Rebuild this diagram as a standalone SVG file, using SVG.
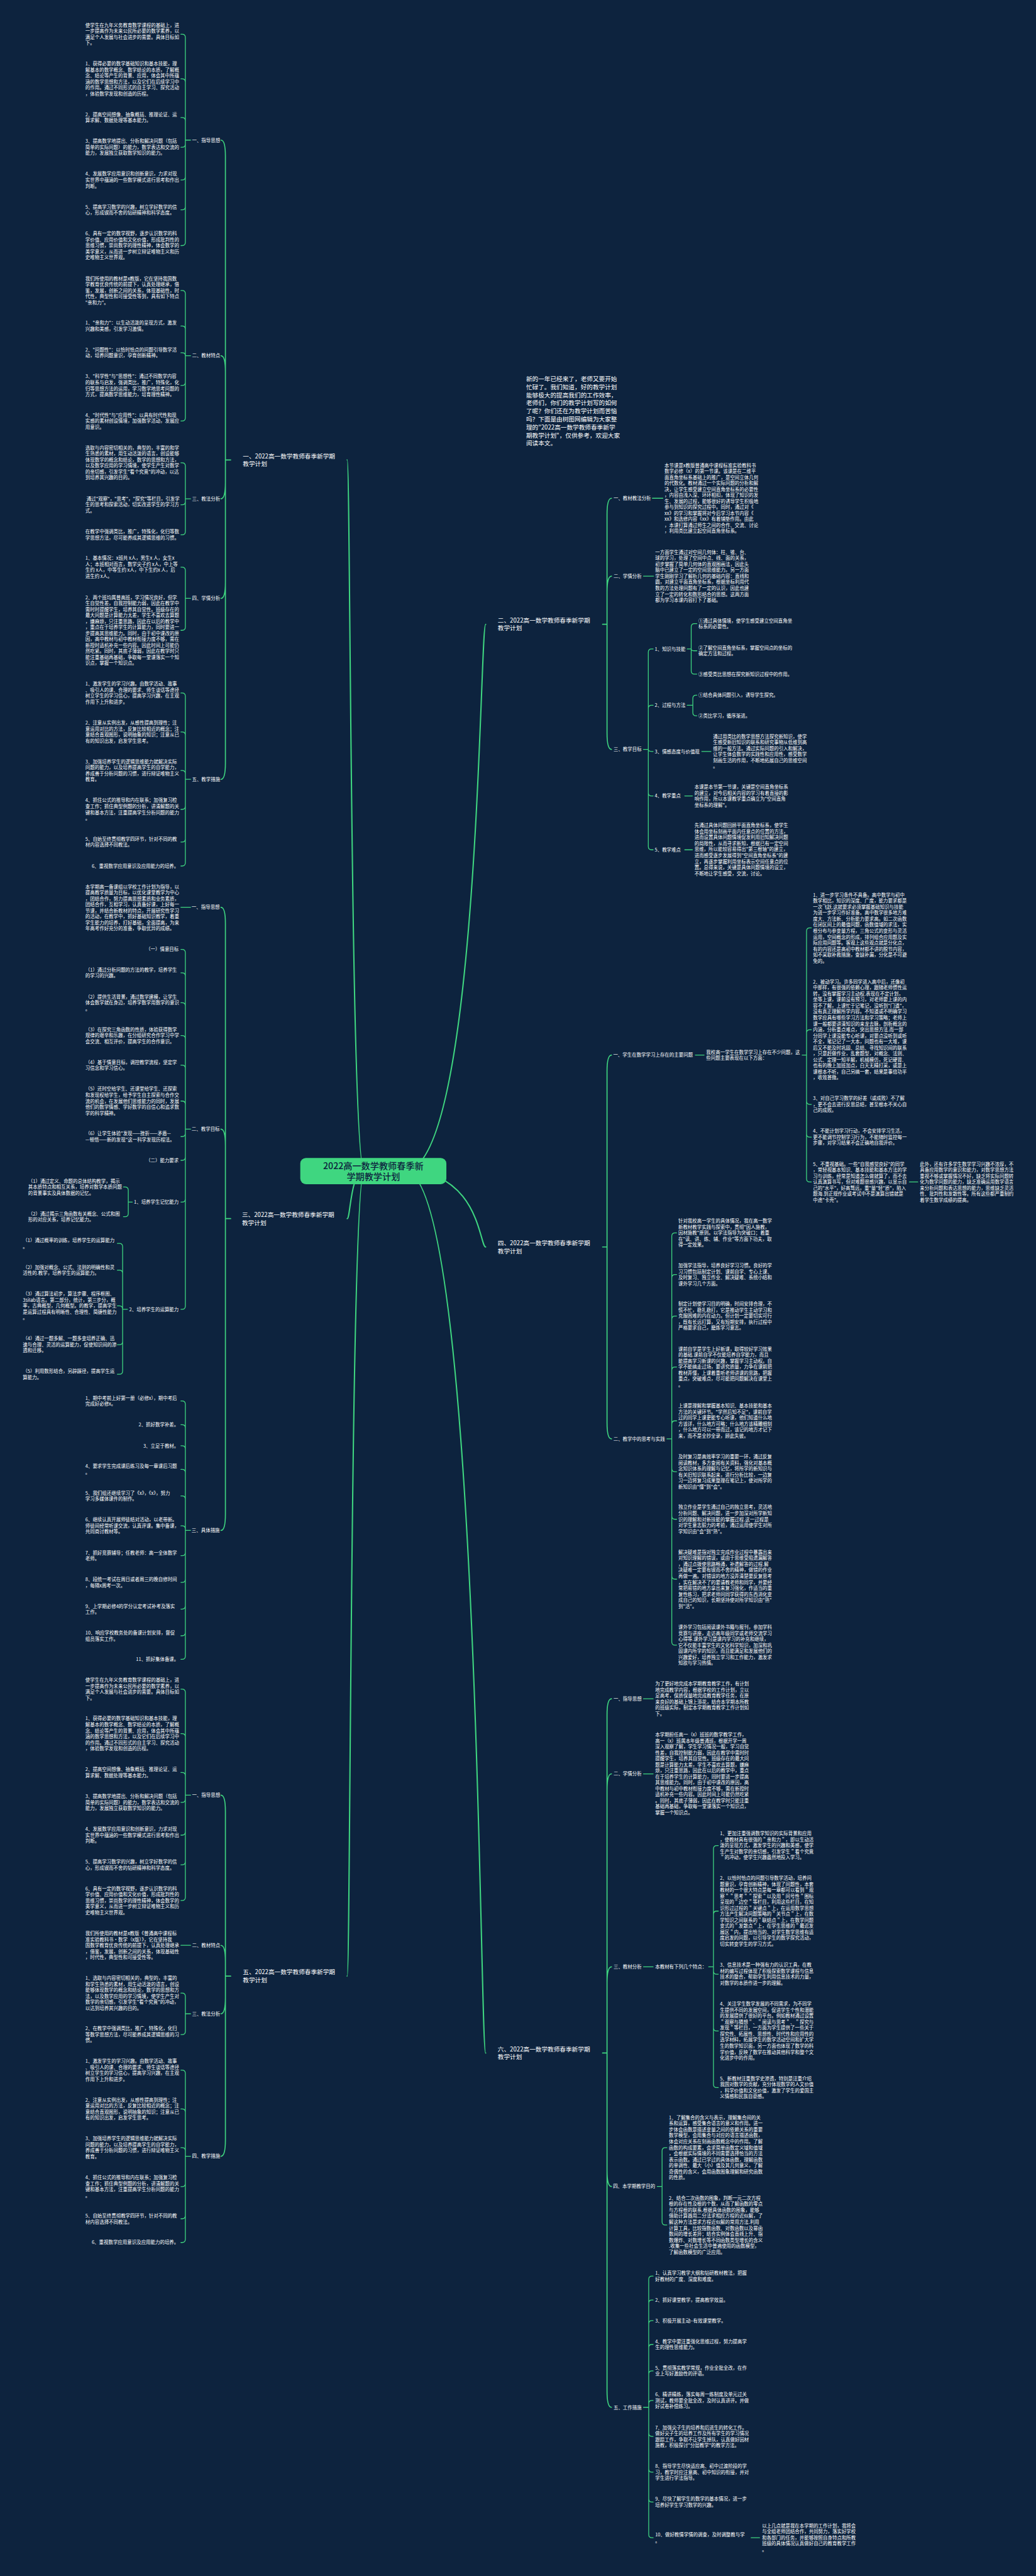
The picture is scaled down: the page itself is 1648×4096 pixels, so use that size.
<svg xmlns="http://www.w3.org/2000/svg" width="1648" height="4096" viewBox="0 0 1648 4096">
<style>
.t{font-family:"Noto Sans CJK SC","Noto Sans",sans-serif;font-size:11.6px;fill:#ffffff}
.e{text-anchor:end}
.m{font-size:15px}
.c{font-size:22px;fill:#0d233e;text-anchor:middle;font-weight:500}
.k{fill:none;stroke:#3fd680;stroke-width:2;stroke-linecap:round;stroke-linejoin:round}
.k2{stroke-width:2.6}
.k3{stroke-width:3.2}
</style>
<rect width="1648" height="4096" fill="#0d233e"/>
<g transform="scale(0.64375)">
<g id="connectors">
<path class="k k3" d="M900,2892C866,2892 866,1136 858,1136M900,2892C866,2892 866,3010 858,3010M900,2892C866,2892 866,4881 858,4881M1000,2892C1185,2892 1185,1542 1200,1542M1000,2892C1185,2892 1185,3080 1200,3080M1000,2892C1185,2892 1185,5071 1200,5071"/>
<path class="k k2" d="M570,1136H557V386Q557,346 546,346M557,1136V918.6Q557,878.6 546,878.6M557,1136V1192Q557,1232 546,1232M557,1136V1438Q557,1478 546,1478M557,1136V1885Q557,1925 546,1925"/>
<path class="k k2" d="M570,3010H557V2281Q557,2241 546,2241M557,3010V2829Q557,2789 546,2789M557,3010V3740Q557,3780 546,3780"/>
<path class="k k2" d="M570,4881H557V4474Q557,4434 546,4434M557,4881V4845Q557,4805 546,4805M557,4881V4934Q557,4974 546,4974M557,4881V5286Q557,5326 546,5326"/>
<path class="k k2" d="M1489,1542H1500V1270.7Q1500,1230.7 1511,1230.7M1500,1542V1463Q1500,1423 1511,1423M1500,1542V1811Q1500,1851 1511,1851"/>
<path class="k k2" d="M1489,3080H1500V2646Q1500,2606 1511,2606M1500,3080V3514Q1500,3554 1511,3554"/>
<path class="k k2" d="M1489,5071H1500V4236Q1500,4196 1511,4196M1500,5071V4421.4Q1500,4381.4 1511,4381.4M1500,5071V4898Q1500,4858 1511,4858M1500,5071V5360.7Q1500,5400.7 1511,5400.7M1500,5071V5906Q1500,5946 1511,5946"/>
<path class="k" d="M471,346H458M458,346V92.5Q458,84.5 450,84.5H447M458,346V202.7Q458,194.7 450,194.7H447M458,346V298.4Q458,290.4 450,290.4H447M458,346V355.8Q458,363.8 450,363.8H447M458,346V436.6Q458,444.6 450,444.6H447M458,346V510.4Q458,518.4 450,518.4H447M458,346V598.6Q458,606.6 450,606.6H447"/>
<path class="k" d="M471,878.6H458M458,878.6V725.6Q458,717.6 450,717.6H447M458,878.6V813.4Q458,805.4 450,805.4H447M458,878.6Q458,871.4 450,871.4H447M458,878.6V944.2Q458,952.2 450,952.2H447M458,878.6V1031.8Q458,1039.8 450,1039.8H447"/>
<path class="k" d="M471,1232H458M458,1232V1151Q458,1143 450,1143H447M458,1232V1238.8Q458,1246.8 450,1246.8H447M458,1232V1312.9Q458,1320.9 450,1320.9H447"/>
<path class="k" d="M471,1478H458M458,1478V1408.9Q458,1400.9 450,1400.9H447M458,1478V1548.9Q458,1556.9 450,1556.9H447"/>
<path class="k" d="M471,1925H458M458,1925V1719.7Q458,1711.7 450,1711.7H447M458,1925V1815.8Q458,1807.8 450,1807.8H447M458,1925V1911.2Q458,1903.2 450,1903.2H447M458,1925V1991.2Q458,1999.2 450,1999.2H447M458,1925V2071.9Q458,2079.9 450,2079.9H447M458,1925V2131Q458,2139 450,2139H447"/>
<path class="k" d="M471,2241H447"/>
<path class="k" d="M471,2789H458M458,2789V2353Q458,2345 450,2345H447M458,2789V2410.9Q458,2402.9 450,2402.9H447M458,2789V2484.8Q458,2476.8 450,2476.8H447M458,2789V2565.8Q458,2557.8 450,2557.8H447M458,2789V2638.9Q458,2630.9 450,2630.9H447M458,2789V2727.6Q458,2719.6 450,2719.6H447M458,2789V2799.4Q458,2807.4 450,2807.4H447M458,2789V2858Q458,2866 450,2866H447M458,2789V2961Q458,2969 450,2969H447M458,2789V3226Q458,3234 450,3234H447"/>
<path class="k" d="M327,2969H317M317,2969V2939.8Q317,2931.8 309,2931.8H305M317,2969V2997.4Q317,3005.4 309,3005.4H305"/>
<path class="k" d="M315,3234H303M303,3234V3079.4Q303,3071.4 295,3071.4H290M303,3234V3145.4Q303,3137.4 295,3137.4H290M303,3234Q303,3225.6 295,3225.6H290M303,3234V3313.4Q303,3321.4 295,3321.4H290M303,3234V3386.4Q303,3394.4 295,3394.4H290"/>
<path class="k" d="M471,3780H458M458,3780V3468.4Q458,3460.4 450,3460.4H447M458,3780V3527Q458,3519 450,3519H447M458,3780V3579Q458,3571 450,3571H447M458,3780V3637.4Q458,3629.4 450,3629.4H447M458,3780V3703Q458,3695 450,3695H447M458,3780V3776.8Q458,3768.8 450,3768.8H447M458,3780V3834.4Q458,3842.4 450,3842.4H447M458,3780V3900.4Q458,3908.4 450,3908.4H447M458,3780V3966.4Q458,3974.4 450,3974.4H447M458,3780V4032.4Q458,4040.4 450,4040.4H447M458,3780V4090.6Q458,4098.6 450,4098.6H447"/>
<path class="k" d="M471,4434H458M458,4434V4180.2Q458,4172.2 450,4172.2H447M458,4434V4290Q458,4282 450,4282H447M458,4434V4386.1Q458,4378.1 450,4378.1H447M458,4434V4443.8Q458,4451.8 450,4451.8H447M458,4434V4524.8Q458,4532.8 450,4532.8H447M458,4434V4598.1Q458,4606.1 450,4606.1H447M458,4434V4686.2Q458,4694.2 450,4694.2H447"/>
<path class="k" d="M471,4805H447"/>
<path class="k" d="M471,4974H458M458,4974V4931Q458,4923 450,4923H447M458,4974V5017.3Q458,5025.3 450,5025.3H447"/>
<path class="k" d="M471,5326H458M458,5326V5121.2Q458,5113.2 450,5113.2H447M458,5326V5217.2Q458,5209.2 450,5209.2H447M458,5326V5312.8Q458,5304.8 450,5304.8H447M458,5326V5392.9Q458,5400.9 450,5400.9H447M458,5326V5472.4Q458,5480.4 450,5480.4H447M458,5326V5531Q458,5539 450,5539H447"/>
<path class="k" d="M1612,1230.7H1638M1590,1423H1615"/>
<path class="k" d="M1590,1851H1602M1602,1851V1611Q1602,1603 1610,1603H1614M1602,1851V1750Q1602,1742 1610,1742H1614M1602,1851Q1602,1856 1610,1856H1614M1602,1851V1958Q1602,1966 1610,1966H1614M1602,1851V2091Q1602,2099 1610,2099H1614"/>
<path class="k" d="M1698,1603H1708M1708,1603V1548.4Q1708,1540.4 1716,1540.4H1722M1708,1603Q1708,1607.4 1716,1607.4H1722M1708,1603V1657Q1708,1665 1716,1665H1722"/>
<path class="k" d="M1698,1742H1712M1712,1742V1725Q1712,1717 1720,1717H1722M1712,1742V1760Q1712,1768 1720,1768H1722"/>
<path class="k" d="M1734,1856H1757M1692,1966H1711M1692,2099H1711"/>
<path class="k" d="M1718,2606H1740M1982,2606H1993M1993,2606V2300Q1993,2292 2001,2292H2005M1993,2606V2551.4Q1993,2543.4 2001,2543.4H2005M1993,2606V2719.8Q1993,2727.8 2001,2727.8H2005M1993,2606V2800.8Q1993,2808.8 2001,2808.8H2005M1993,2606V2911.4Q1993,2919.4 2001,2919.4H2005M2247,2919.4H2268"/>
<path class="k" d="M1648,3554H1660M1660,3554V3053.2Q1660,3045.2 1668,3045.2H1672M1660,3554V3156.2Q1660,3148.2 1668,3148.2H1672M1660,3554V3258.6Q1660,3250.6 1668,3250.6H1672M1660,3554V3384.4Q1660,3376.4 1668,3376.4H1672M1660,3554V3517.5Q1660,3509.5 1668,3509.5H1672M1660,3554V3627Q1660,3635 1668,3635H1672M1660,3554V3744.6Q1660,3752.6 1668,3752.6H1672M1660,3554V3892.6Q1660,3900.6 1668,3900.6H1672M1660,3554V4055.4Q1660,4063.4 1668,4063.4H1672"/>
<path class="k" d="M1590,4196H1614M1590,4381.4H1614M1590,4858H1614M1751,4858H1763M1763,4858V4566.6Q1763,4558.6 1771,4558.6H1775M1763,4858V4728.4Q1763,4720.4 1771,4720.4H1775M1763,4858V4868.2Q1763,4876.2 1771,4876.2H1775M1763,4858V5008.6Q1763,5016.6 1771,5016.6H1775M1763,4858V5148.2Q1763,5156.2 1771,5156.2H1775"/>
<path class="k" d="M1624,5400.7H1636M1636,5400.7V5312.5Q1636,5304.5 1644,5304.5H1648M1636,5400.7V5487.6Q1636,5495.6 1644,5495.6H1648"/>
<path class="k" d="M1590,5946H1603M1603,5946V5630Q1603,5622 1611,5622H1614M1603,5946V5689Q1603,5681 1611,5681H1614M1603,5946V5740Q1603,5732 1611,5732H1614M1603,5946V5798.7Q1603,5790.7 1611,5790.7H1614M1603,5946V5864.2Q1603,5856.2 1611,5856.2H1614M1603,5946V5937.2Q1603,5929.2 1611,5929.2H1614M1603,5946V6009.9Q1603,6017.9 1611,6017.9H1614M1603,5946V6098.1Q1603,6106.1 1611,6106.1H1614M1603,5946V6172.1Q1603,6180.1 1611,6180.1H1614M1603,5946V6260.2Q1603,6268.2 1611,6268.2H1614M1856,6268.2H1877"/>
</g>

<g id="center">
<rect x="742" y="2860" width="361" height="65" rx="14" fill="#3fd680"/>
<text class="t c" x="922.5" y="2887.4">2022高一数学教师春季新<tspan x="922.5" dy="27">学期教学计划</tspan></text>
</g>

<g id="intro">
<text class="t m" x="1300" y="941.2">新的一年已经来了，老师又要开始<tspan x="1300" dy="19.9">忙碌了。我们知道，好的教学计划</tspan><tspan x="1300" dy="19.9">能够极大的提高我们的工作效率，</tspan><tspan x="1300" dy="19.9">老师们，你们的教学计划写的如何</tspan><tspan x="1300" dy="19.9">了呢？你们还在为教学计划而苦恼</tspan><tspan x="1300" dy="19.9">吗？下面是由树图网编辑为大家整</tspan><tspan x="1300" dy="19.9">理的"2022高一数学教师春季新学</tspan><tspan x="1300" dy="19.9">期教学计划"，仅供参考，欢迎大家</tspan><tspan x="1300" dy="19.9">阅读本文。</tspan></text>
</g>

<!-- Branch 1 -->
<g id="b1">
<text class="t m" x="600" y="1131.7">一、2022高一数学教师春季新学期<tspan x="600" dy="19.5">教学计划</tspan></text>
</g>
<g id="b1-s1"><text class="t e" x="544" y="350.3">一、指导思想</text></g>
<g id="b1-s1-a"><text class="t" x="211" y="66.6">使学生在九年义务教育数学课程的基础上，进<tspan x="211" dy="14.8">一步提高作为未来公民所必要的数学素养，以</tspan><tspan x="211" dy="14.8">满足个人发展与社会进步的需要。具体目标如</tspan><tspan x="211" dy="14.8">下。</tspan></text></g>
<g id="b1-s1-b"><text class="t" x="211" y="162">1、获得必要的数学基础知识和基本技能，理<tspan x="211" dy="14.8">解基本的数学概念、数学结论的本质，了解概</tspan><tspan x="211" dy="14.8">念、结论等产生的背景、应用，体会其中所蕴</tspan><tspan x="211" dy="14.8">涵的数学思想和方法，以及它们在后续学习中</tspan><tspan x="211" dy="14.8">的作用。通过不同形式的自主学习、探究活动</tspan><tspan x="211" dy="14.8">，体验数学发现和创造的历程。</tspan></text></g>
<g id="b1-s1-c"><text class="t" x="211" y="287.3">2、提高空间想像、抽象概括、推理论证、运<tspan x="211" dy="14.8">算求解、数据处理等基本能力。</tspan></text></g>
<g id="b1-s1-d"><text class="t" x="211" y="353.3">3、提高数学地提出、分析和解决问题（包括<tspan x="211" dy="14.8">简单的实际问题）的能力，数学表达和交流的</tspan><tspan x="211" dy="14.8">能力，发展独立获取数学知识的能力。</tspan></text></g>
<g id="b1-s1-e"><text class="t" x="211" y="434.1">4、发展数学应用意识和创新意识，力求对现<tspan x="211" dy="14.8">实世界中蕴涵的一些数学模式进行思考和作出</tspan><tspan x="211" dy="14.8">判断。</tspan></text></g>
<g id="b1-s1-f"><text class="t" x="211" y="515.3">5、提高学习数学的兴趣，树立学好数学的信<tspan x="211" dy="14.8">心，形成锲而不舍的钻研精神和科学态度。</tspan></text></g>
<g id="b1-s1-g"><text class="t" x="211" y="581.3">6、具有一定的数学视野，逐步认识数学的科<tspan x="211" dy="14.8">学价值、应用价值和文化价值，形成批判性的</tspan><tspan x="211" dy="14.8">思维习惯，崇尚数学的理性精神，体会数学的</tspan><tspan x="211" dy="14.8">美学意义，从而进一步树立辩证唯物主义和历</tspan><tspan x="211" dy="14.8">史唯物主义世界观。</tspan></text></g>
<g id="b1-s2"><text class="t e" x="544" y="882.9">二、教材特点</text></g>
<g id="b1-s2-a"><text class="t" x="211" y="692.3">我们所使用的教材是x教版，它在坚持我国数<tspan x="211" dy="14.8">学教育优良传统的前提下，认真处理继承，借</tspan><tspan x="211" dy="14.8">鉴，发展，创新之间的关系，体现基础性，时</tspan><tspan x="211" dy="14.8">代性，典型性和可接受性等到，具有如下特点</tspan><tspan x="211" dy="14.8">"亲和力"。</tspan></text></g>
<g id="b1-s2-b"><text class="t" x="211" y="802.3">1、"亲和力"：以生动活泼的呈现方式，激发<tspan x="211" dy="14.8">兴趣和美感，引发学习激情。</tspan></text></g>
<g id="b1-s2-c"><text class="t" x="211" y="868.3">2、"问题性"：以恰时恰点的问题引导数学活<tspan x="211" dy="14.8">动，培养问题意识，孕育创新精神。</tspan></text></g>
<g id="b1-s2-d"><text class="t" x="211" y="934.3">3、"科学性"与"思想性"：通过不同数学内容<tspan x="211" dy="14.8">的联系与启发，强调类比，推广，特殊化，化</tspan><tspan x="211" dy="14.8">归等思想方法的运用，学习数学地思考问题的</tspan><tspan x="211" dy="14.8">方式，提高数学思维能力，培育理性精神。</tspan></text></g>
<g id="b1-s2-e"><text class="t" x="211" y="1029.3">4、"时代性"与"应用性"：以具有时代性和现<tspan x="211" dy="14.8">实感的素材创设情境，加强数学活动，发展应</tspan><tspan x="211" dy="14.8">用意识。</tspan></text></g>
<g id="b1-s3"><text class="t e" x="544" y="1236.3">三、教法分析</text></g>
<g id="b1-s3-a"><text class="t" x="211" y="1110.3">选取与内容密切相关的，典型的，丰富的和学<tspan x="211" dy="14.8">生熟悉的素材，用生动活泼的语言，创设能够</tspan><tspan x="211" dy="14.8">体现数学的概念和结论，数学的思想和方法，</tspan><tspan x="211" dy="14.8">以及数学应用的学习情境，使学生产生对数学</tspan><tspan x="211" dy="14.8">的亲切感，引发学生"看个究竟"的冲动，以达</tspan><tspan x="211" dy="14.8">到培养其兴趣的目的。</tspan></text></g>
<g id="b1-s3-b"><text class="t" x="214" y="1236.3">通过"观察"，"思考"，"探究"等栏目，引发学<tspan x="211" dy="14.8">生的思考和探索活动，切实改进学生的学习方</tspan><tspan x="211" dy="14.8">式。</tspan></text></g>
<g id="b1-s3-c"><text class="t" x="211" y="1317.8">在教学中强调类比，推广，特殊化，化归等数<tspan x="211" dy="14.8">学思想方法，尽可能养成其逻辑思维的习惯。</tspan></text></g>
<g id="b1-s4"><text class="t e" x="544" y="1482.3">四、学情分析</text></g>
<g id="b1-s4-a"><text class="t" x="211" y="1383">1、基本情况：x班共 x人，男生x 人，女生x<tspan x="211" dy="14.8">人；本班相对而言，数学尖子约 x人，中上等</tspan><tspan x="211" dy="14.8">生约 x人，中等生约 x人，中下生约x 人，后</tspan><tspan x="211" dy="14.8">进生约 x人。</tspan></text></g>
<g id="b1-s4-b"><text class="t" x="211" y="1479.8">2、两个班均属普高班，学习情况良好，但学<tspan x="211" dy="14.8">生自觉性差，自我控制能力弱，因此在教学中</tspan><tspan x="211" dy="14.8">需时时提醒学生，培养其自觉性。班级存在的</tspan><tspan x="211" dy="14.8">最大问题是计算能力太差，学生不喜欢去算题</tspan><tspan x="211" dy="14.8">，嫌麻烦，只注重思路，因此在以后的教学中</tspan><tspan x="211" dy="14.8">，重点在于培养学生的计算能力，同时要进一</tspan><tspan x="211" dy="14.8">步提高其思维能力。同时，由于初中课改的原</tspan><tspan x="211" dy="14.8">因，高中教材与初中教材衔接力度不够，需在</tspan><tspan x="211" dy="14.8">新授时适机补充一些内容。因此时间上可能仍</tspan><tspan x="211" dy="14.8">然吃紧。同时，其底子薄弱，因此在教学时只</tspan><tspan x="211" dy="14.8">能注重基础再基础，争取每一堂课落实一个知</tspan><tspan x="211" dy="14.8">识点，掌握一个知识点。</tspan></text></g>
<g id="b1-s5"><text class="t e" x="544" y="1929.3">五、教学措施</text></g>
<g id="b1-s5-a"><text class="t" x="211" y="1693.8">1、激发学生的学习兴趣。由数学活动、故事<tspan x="211" dy="14.8">、吸引人的课、合理的要求、师生谈话等途径</tspan><tspan x="211" dy="14.8">树立学生的学习信心，提高学习兴趣，在主观</tspan><tspan x="211" dy="14.8">作用下上升和进步。</tspan></text></g>
<g id="b1-s5-b"><text class="t" x="211" y="1789.9">2、注意从实例出发，从感性提高到理性；注<tspan x="211" dy="14.8">意运用对比的方法，反复比较相近的概念；注</tspan><tspan x="211" dy="14.8">意结合直观图形，说明抽象的知识；注意从已</tspan><tspan x="211" dy="14.8">有的知识出发，启发学生思考。</tspan></text></g>
<g id="b1-s5-c"><text class="t" x="211" y="1885.3">3、加强培养学生的逻辑思维能力就解决实际<tspan x="211" dy="14.8">问题的能力，以及培养提高学生的自学能力，</tspan><tspan x="211" dy="14.8">养成善于分析问题的习惯，进行辩证唯物主义</tspan><tspan x="211" dy="14.8">教育。</tspan></text></g>
<g id="b1-s5-d"><text class="t" x="211" y="1981.3">4、抓住公式的推导和内在联系；加强复习检<tspan x="211" dy="14.8">查工作；抓住典型例题的分析，讲清解题的关</tspan><tspan x="211" dy="14.8">键和基本方法，注重提高学生分析问题的能力</tspan><tspan x="211" dy="14.8">。</tspan></text></g>
<g id="b1-s5-e"><text class="t" x="211" y="2076.8">5、自始至终贯彻教学四环节，针对不同的教<tspan x="211" dy="14.8">材内容选择不同教法。</tspan></text></g>
<g id="b1-s5-f"><text class="t e" x="441.6" y="2143.3">6、重视数学应用意识及应用能力的培养。</text></g>

<!-- Branch 3 -->
<g id="b3">
<text class="t m" x="598" y="3005.7">三、2022高一数学教师春季新学期<tspan x="598" dy="19.6">教学计划</tspan></text>
</g>
<g id="b3-s1"><text class="t e" x="543" y="2245.3">一、指导思想</text></g>
<g id="b3-s1-a"><text class="t" x="211" y="2194.3">本学期高一备课组以学校工作计划为指导，以<tspan x="211" dy="14.8">提高教学质量为目标，以优化课堂教学为中心</tspan><tspan x="211" dy="14.8">，团结合作，努力提高思想素质和业务素质，</tspan><tspan x="211" dy="14.8">团结合作，互相学习，认真备好课，上好每一</tspan><tspan x="211" dy="14.8">节课，并结合新教材的特点，开展研究性学习</tspan><tspan x="211" dy="14.8">的活动，在教学中，抓好基础知识教学，着重</tspan><tspan x="211" dy="14.8">学生能力的培养，打好基础，全面提高，为来</tspan><tspan x="211" dy="14.8">年高考作好充分的准备，争取优异的成绩。</tspan></text></g>
<g id="b3-s2"><text class="t e" x="543" y="2793.3">二、教学目标</text></g>
<g id="b3-s2-a"><text class="t e" x="441.6" y="2349.3">（一）情意目标</text></g>
<g id="b3-s2-b"><text class="t" x="211" y="2399.8">（1）通过分析问题的方法的教学，培养学生<tspan x="211" dy="14.8">的学习的兴趣。</tspan></text></g>
<g id="b3-s2-c"><text class="t" x="211" y="2466.3">（2）提供生活背景，通过数学建模，让学生<tspan x="211" dy="14.8">体会数学就在身边，培养学数学用数学的意识</tspan><tspan x="211" dy="14.8">。</tspan></text></g>
<g id="b3-s2-d"><text class="t" x="211" y="2547.3">（3）在探究三角函数的性质，体验获得数学<tspan x="211" dy="14.8">规律的艰辛和乐趣，在分组研究合作学习中学</tspan><tspan x="211" dy="14.8">会交流、相互评价，提高学生的合作意识。</tspan></text></g>
<g id="b3-s2-e"><text class="t" x="211" y="2627.8">（4）基于情意目标，调控教学流程，坚定学<tspan x="211" dy="14.8">习信念和学习信心。</tspan></text></g>
<g id="b3-s2-f"><text class="t" x="211" y="2694.3">（5）还时空给学生、还课堂给学生、还探索<tspan x="211" dy="14.8">和发现权给学生，给予学生自主探索与合作交</tspan><tspan x="211" dy="14.8">流的机会，在发展他们思维能力的同时，发展</tspan><tspan x="211" dy="14.8">他们的数学情感、学好数学的自信心和追求数</tspan><tspan x="211" dy="14.8">学的科学精神。</tspan></text></g>
<g id="b3-s2-g"><text class="t" x="211" y="2804.3">（6）让学生体验"发现——挫折——矛盾—<tspan x="211" dy="14.8">—顿悟——新的发现"这一科学发现历程法。</tspan></text></g>
<g id="b3-s2-h"><text class="t e" x="441.6" y="2870.3">（二）能力要求</text></g>
<g id="b3-s2-i"><text class="t e" x="441.6" y="2973.3">1、培养学生记忆能力</text></g>
<g id="b3-s2-i1"><text class="t" x="69.7" y="2921.3">（1）通过定义、命题的总体结构教学，揭示<tspan x="69.7" dy="14.8">其本质特点和相互关系，培养对数学本质问题</tspan><tspan x="69.7" dy="14.8">的背景事实及具体数据的记忆。</tspan></text></g>
<g id="b3-s2-i2"><text class="t" x="69.7" y="3002.3">（2）通过揭示三角函数有关概念、公式和图<tspan x="69.7" dy="14.8">形的对应关系，培养记忆能力。</tspan></text></g>
<g id="b3-s2-j"><text class="t e" x="441.6" y="3238.3">2、培养学生的运算能力</text></g>
<g id="b3-s2-j1"><text class="t" x="56.5" y="3068.3">（1）通过概率的训练，培养学生的运算能力<tspan x="56.5" dy="14.8">。</tspan></text></g>
<g id="b3-s2-j2"><text class="t" x="56.5" y="3134.3">（2）加强对概念、公式、法则的明确性和灵<tspan x="56.5" dy="14.8">活性的.教学，培养学生的运算能力。</tspan></text></g>
<g id="b3-s2-j3"><text class="t" x="56.5" y="3200.3">（3）通过算法初步，算法步骤、程序框图、<tspan x="56.5" dy="14.8">3silab语言。第二部分，统计，第三步分，概</tspan><tspan x="56.5" dy="14.8">率，古典概型，几何概型。的教学，提高学生</tspan><tspan x="56.5" dy="14.8">是运算过程具有明晰性、合理性、简捷性能力</tspan><tspan x="56.5" dy="14.8">。</tspan></text></g>
<g id="b3-s2-j4"><text class="t" x="56.5" y="3310.9">（4）通过一题多解、一题多变培养正确、迅<tspan x="56.5" dy="14.8">速与合理、灵活的运算能力，促使知识间的渗</tspan><tspan x="56.5" dy="14.8">透和迁移。</tspan></text></g>
<g id="b3-s2-j5"><text class="t" x="56.5" y="3391.3">（5）利用数形结合，另辟蹊径，提高学生运<tspan x="56.5" dy="14.8">算能力。</tspan></text></g>
<g id="b3-s3"><text class="t e" x="543" y="3784.3">三、具体措施</text></g>
<g id="b3-s3-1"><text class="t" x="211" y="3457.3">1、期中考前上好第一册（必修x），期中考后<tspan x="211" dy="14.8">完成好必修x。</tspan></text></g>
<g id="b3-s3-2"><text class="t e" x="441.6" y="3523.3">2、抓好数学补差。</text></g>
<g id="b3-s3-3"><text class="t e" x="441.6" y="3575.3">3、立足于教材。</text></g>
<g id="b3-s3-4"><text class="t" x="211" y="3626.3">4、要求学生完成课后练习及每一章课后习题<tspan x="211" dy="14.8">。</tspan></text></g>
<g id="b3-s3-5"><text class="t" x="211" y="3691.9">5、我们组还继续学习了《x》，《x》，努力<tspan x="211" dy="14.8">学习多媒体课件的制作。</tspan></text></g>
<g id="b3-s3-6"><text class="t" x="211" y="3758.3">6、继续认真开展师徒结对活动，以老带新。<tspan x="211" dy="14.8">师徒间经常听课交流，认真评课。集中备课，</tspan><tspan x="211" dy="14.8">共同商讨教材等。</tspan></text></g>
<g id="b3-s3-7"><text class="t" x="211" y="3839.3">7、抓好竞赛辅导；任教老师：高一全体数学<tspan x="211" dy="14.8">老师。</tspan></text></g>
<g id="b3-s3-8"><text class="t" x="211" y="3905.3">8、段统一考试在周日或者周三的晚自修时间<tspan x="211" dy="14.8">，每隔x周考一次。</tspan></text></g>
<g id="b3-s3-9"><text class="t" x="211" y="3971.3">9、上学期必修4的学分认定考试补考及落实<tspan x="211" dy="14.8">工作。</tspan></text></g>
<g id="b3-s3-10"><text class="t" x="211" y="4037.3">10、响应学校教务处的备课计划安排，督促<tspan x="211" dy="14.8">组员落实工作。</tspan></text></g>
<g id="b3-s3-11"><text class="t e" x="441.6" y="4102.9">11、抓好集体备课。</text></g>

<!-- Branch 5 -->
<g id="b5">
<text class="t m" x="600" y="4876.7">五、2022高一数学教师春季新学期<tspan x="600" dy="19.5">教学计划</tspan></text>
</g>
<g id="b5-s1"><text class="t e" x="544" y="4438.3">一、指导思想</text></g>
<g id="b5-s1-a"><text class="t" x="211" y="4154.3">使学生在九年义务教育数学课程的基础上，进<tspan x="211" dy="14.8">一步提高作为未来公民所必要的数学素养，以</tspan><tspan x="211" dy="14.8">满足个人发展与社会进步的需要。具体目标如</tspan><tspan x="211" dy="14.8">下。</tspan></text></g>
<g id="b5-s1-b"><text class="t" x="211" y="4249.3">1、获得必要的数学基础知识和基本技能，理<tspan x="211" dy="14.8">解基本的数学概念、数学结论的本质，了解概</tspan><tspan x="211" dy="14.8">念、结论等产生的背景、应用，体会其中所蕴</tspan><tspan x="211" dy="14.8">涵的数学思想和方法，以及它们在后续学习中</tspan><tspan x="211" dy="14.8">的作用。通过不同形式的自主学习、探究活动</tspan><tspan x="211" dy="14.8">，体验数学发现和创造的历程。</tspan></text></g>
<g id="b5-s1-c"><text class="t" x="211" y="4375">2、提高空间想像、抽象概括、推理论证、运<tspan x="211" dy="14.8">算求解、数据处理等基本能力。</tspan></text></g>
<g id="b5-s1-d"><text class="t" x="211" y="4441.3">3、提高数学地提出、分析和解决问题（包括<tspan x="211" dy="14.8">简单的实际问题）的能力，数学表达和交流的</tspan><tspan x="211" dy="14.8">能力，发展独立获取数学知识的能力。</tspan></text></g>
<g id="b5-s1-e"><text class="t" x="211" y="4522.3">4、发展数学应用意识和创新意识，力求对现<tspan x="211" dy="14.8">实世界中蕴涵的一些数学模式进行思考和作出</tspan><tspan x="211" dy="14.8">判断。</tspan></text></g>
<g id="b5-s1-f"><text class="t" x="211" y="4603">5、提高学习数学的兴趣，树立学好数学的信<tspan x="211" dy="14.8">心，形成锲而不舍的钻研精神和科学态度。</tspan></text></g>
<g id="b5-s1-g"><text class="t" x="211" y="4668.9">6、具有一定的数学视野，逐步认识数学的科<tspan x="211" dy="14.8">学价值、应用价值和文化价值，形成批判性的</tspan><tspan x="211" dy="14.8">思维习惯，崇尚数学的理性精神，体会数学的</tspan><tspan x="211" dy="14.8">美学意义，从而进一步树立辩证唯物主义和历</tspan><tspan x="211" dy="14.8">史唯物主义世界观。</tspan></text></g>
<g id="b5-s2"><text class="t e" x="544" y="4809.3">二、教材特点</text></g>
<g id="b5-s2-a"><text class="t" x="211" y="4779.8">我们所使用的教材是x教版《普通高中课程标<tspan x="211" dy="14.8">准实验教科书·数学（x版）》，它在坚持我</tspan><tspan x="211" dy="14.8">国数学教育优良传统的前提下，认真处理继承</tspan><tspan x="211" dy="14.8">，借鉴，发展，创新之间的关系，体现基础性</tspan><tspan x="211" dy="14.8">，时代性，典型性和可接受性等。</tspan></text></g>
<g id="b5-s3"><text class="t e" x="544" y="4978.3">三、教法分析</text></g>
<g id="b5-s3-a"><text class="t" x="211" y="4890.3">1、选取与内容密切相关的，典型的，丰富的<tspan x="211" dy="14.8">和学生熟悉的素材，用生动活泼的语言，创设</tspan><tspan x="211" dy="14.8">能够体现数学的概念和结论，数学的思想和方</tspan><tspan x="211" dy="14.8">法，以及数学应用的学习情境，使学生产生对</tspan><tspan x="211" dy="14.8">数学的亲切感，引发学生"看个究竟"的冲动，</tspan><tspan x="211" dy="14.8">以达到培养其兴趣的目的。</tspan></text></g>
<g id="b5-s3-b"><text class="t" x="211" y="5014.8">2、在教学中强调类比，推广，特殊化，化归<tspan x="211" dy="14.8">等数学思想方法，尽可能养成其逻辑思维的习</tspan><tspan x="211" dy="14.8">惯。</tspan></text></g>
<g id="b5-s4"><text class="t e" x="544" y="5330.3">四、教学措施</text></g>
<g id="b5-s4-a"><text class="t" x="211" y="5095.3">1、激发学生的学习兴趣。由数学活动、故事<tspan x="211" dy="14.8">、吸引人的课、合理的要求、师生谈话等途径</tspan><tspan x="211" dy="14.8">树立学生的学习信心，提高学习兴趣，在主观</tspan><tspan x="211" dy="14.8">作用下上升和进步。</tspan></text></g>
<g id="b5-s4-b"><text class="t" x="211" y="5191.3">2、注意从实例出发，从感性提高到理性；注<tspan x="211" dy="14.8">意运用对比的方法，反复比较相近的概念；注</tspan><tspan x="211" dy="14.8">意结合直观图形，说明抽象的知识；注意从已</tspan><tspan x="211" dy="14.8">有的知识出发，启发学生思考。</tspan></text></g>
<g id="b5-s4-c"><text class="t" x="211" y="5286.9">3、加强培养学生的逻辑思维能力就解决实际<tspan x="211" dy="14.8">问题的能力，以及培养提高学生的自学能力，</tspan><tspan x="211" dy="14.8">养成善于分析问题的习惯，进行辩证唯物主义</tspan><tspan x="211" dy="14.8">教育。</tspan></text></g>
<g id="b5-s4-d"><text class="t" x="211" y="5383">4、抓住公式的推导和内在联系；加强复习检<tspan x="211" dy="14.8">查工作；抓住典型例题的分析，讲清解题的关</tspan><tspan x="211" dy="14.8">键和基本方法，注重提高学生分析问题的能力</tspan><tspan x="211" dy="14.8">。</tspan></text></g>
<g id="b5-s4-e"><text class="t" x="211" y="5477.3">5、自始至终贯彻教学四环节，针对不同的教<tspan x="211" dy="14.8">材内容选择不同教法。</tspan></text></g>
<g id="b5-s4-f"><text class="t e" x="441.6" y="5543.3">6、重视数学应用意识及应用能力的培养。</text></g>

<!-- Branch 2 -->
<g id="b2">
<text class="t m" x="1230" y="1537.7">二、2022高一数学教师春季新学期<tspan x="1230" dy="19.5">教学计划</tspan></text>
</g>
<g id="b2-s1"><text class="t" x="1516" y="1235">一、教材教法分析</text></g>
<g id="b2-s1-a"><text class="t" x="1642" y="1153.7">本节课是x教版普通高中课程标准实验教科书<tspan x="1642" dy="14.8">数学必修（x）的第一节课。该课是在二维平</tspan><tspan x="1642" dy="14.8">面直角坐标系基础上的推广，是空间立体几何</tspan><tspan x="1642" dy="14.8">的代数化。教材通过一个实际问题的分析和解</tspan><tspan x="1642" dy="14.8">决，让学生感受建立空间直角坐标系的必要性</tspan><tspan x="1642" dy="14.8">，内容由浅入深、环环相扣，体现了知识的发</tspan><tspan x="1642" dy="14.8">生、发展的过程，能够很好的诱导学生积极地</tspan><tspan x="1642" dy="14.8">参与到知识的探究过程中。同时，通过对《</tspan><tspan x="1642" dy="14.8">xx》的学习和掌握将对今后学习本节内容《</tspan><tspan x="1642" dy="14.8">xx》和选修内容《xx》有着铺垫作用。由此</tspan><tspan x="1642" dy="14.8">，本课打算通过师生之间的合作、交流、讨论</tspan><tspan x="1642" dy="14.8">，利用类比建立起空间直角坐标系。</tspan></text></g>
<g id="b2-s2"><text class="t" x="1516" y="1427.3">二、学情分析</text></g>
<g id="b2-s2-a"><text class="t" x="1619" y="1368.3">一方面学生通过对空间几何体：柱、锥、台、<tspan x="1619" dy="14.8">球的学习，处理了空间中点、线、面的关系，</tspan><tspan x="1619" dy="14.8">初步掌握了简单几何体的直观图画法，因此头</tspan><tspan x="1619" dy="14.8">脑中已建立了一定的空间思维能力。另一方面</tspan><tspan x="1619" dy="14.8">学生刚刚学习了解析几何的基础内容：直线和</tspan><tspan x="1619" dy="14.8">圆，对建立平面直角坐标系，根据坐标利用代</tspan><tspan x="1619" dy="14.8">数的方法处理问题有了一定的认识，因此也建</tspan><tspan x="1619" dy="14.8">立了一定的转化和数形结合的思想。这两方面</tspan><tspan x="1619" dy="14.8">都为学习本课内容打下了基础。</tspan></text></g>
<g id="b2-s3"><text class="t" x="1516" y="1855.3">三、教学目标</text></g>
<g id="b2-s3-1"><text class="t" x="1618" y="1607.3">1、知识与技能</text></g>
<g id="b2-s3-1a"><text class="t" x="1726" y="1537.3">①通过具体情境，使学生感受建立空间直角坐<tspan x="1726" dy="14.8">标系的必要性。</tspan></text></g>
<g id="b2-s3-1b"><text class="t" x="1726" y="1604.3">②了解空间直角坐标系，掌握空间点的坐标的<tspan x="1726" dy="14.8">确定方法和过程。</tspan></text></g>
<g id="b2-s3-1c"><text class="t" x="1726" y="1669.3">③感受类比思想在探究新知识过程中的作用。</text></g>
<g id="b2-s3-2"><text class="t" x="1618" y="1746.3">2、过程与方法</text></g>
<g id="b2-s3-2a"><text class="t" x="1726" y="1721.3">①结合具体问题引入，诱导学生探究。</text></g>
<g id="b2-s3-2b"><text class="t" x="1726" y="1772.3">②类比学习，循序渐进。</text></g>
<g id="b2-s3-3"><text class="t" x="1618" y="1860.3">3、情感态度与价值观</text></g>
<g id="b2-s3-3a"><text class="t" x="1762" y="1823.3">通过用类比的数学思想方法探究新知识，使学<tspan x="1762" dy="14.8">生感受新旧知识的联系和研究事物从低维到高</tspan><tspan x="1762" dy="14.8">维的一般方法。通过实际问题的引入和解决，</tspan><tspan x="1762" dy="14.8">让学生体会数学的实践性和应用性，感受数学</tspan><tspan x="1762" dy="14.8">刻画生活的作用，不断地拓展自己的思维空间</tspan><tspan x="1762" dy="14.8">。</tspan></text></g>
<g id="b2-s3-4"><text class="t" x="1618" y="1970.3">4、教学重点</text></g>
<g id="b2-s3-4a"><text class="t" x="1716" y="1948.3">本课是本节第一节课，关键是空间直角坐标系<tspan x="1716" dy="14.8">的建立，对今后相关内容的学习有着直接的影</tspan><tspan x="1716" dy="14.8">响作用，所以本课教学重点确立为"空间直角</tspan><tspan x="1716" dy="14.8">坐标系的理解"。</tspan></text></g>
<g id="b2-s3-5"><text class="t" x="1618" y="2103.3">5、教学难点</text></g>
<g id="b2-s3-5a"><text class="t" x="1716" y="2043.3">先通过具体问题回顾平面直角坐标系，使学生<tspan x="1716" dy="14.8">体会用坐标刻画平面内任意点的位置的方法，</tspan><tspan x="1716" dy="14.8">进而设置具体问题情境促发利用旧知解决问题</tspan><tspan x="1716" dy="14.8">的局限性，从而寻求新知，根据已有一定空间</tspan><tspan x="1716" dy="14.8">思维，所以能较容易得出"第三根轴"的建立，</tspan><tspan x="1716" dy="14.8">进而感受逐步发展得到"空间直角坐标系"的建</tspan><tspan x="1716" dy="14.8">立，再逐步掌握利用坐标表示空间任意点的位</tspan><tspan x="1716" dy="14.8">置。总得来说，关键是具体问题情境的设立，</tspan><tspan x="1716" dy="14.8">不断地让学生感受，交流，讨论。</tspan></text></g>

<!-- Branch 4 -->
<g id="b4">
<text class="t m" x="1230" y="3075.7">四、2022高一数学教师春季新学期<tspan x="1230" dy="19.5">教学计划</tspan></text>
</g>
<g id="b4-s1"><text class="t e" x="1712" y="2610.3">一、学生在数学学习上存在的主要问题</text></g>
<g id="b4-s1-a"><text class="t" x="1745" y="2603.3">我校高一学生在数学学习上存在不少问题，这<tspan x="1745" dy="14.8">些问题主要表现在以下方面：</tspan></text></g>
<g id="b4-s1-1"><text class="t" x="2009" y="2214.9">1、进一步学习条件不具备。高中数学与初中<tspan x="2009" dy="14.8">数学相比，知识的深度、广度，能力要求都是</tspan><tspan x="2009" dy="14.8">一次飞跃.这就要求必须掌握基础知识与技能</tspan><tspan x="2009" dy="14.8">为进一步学习作好准备。高中数学很多地方难</tspan><tspan x="2009" dy="14.8">度大、方法新、分析能力要求高。如二次函数</tspan><tspan x="2009" dy="14.8">在闭区间上的最值问题，函数值域的求法，实</tspan><tspan x="2009" dy="14.8">根分布与参变量方程，三角公式的变形与灵活</tspan><tspan x="2009" dy="14.8">运用，空间概念的形成，排列组合应用题及实</tspan><tspan x="2009" dy="14.8">际应用问题等。客观上这些观点就是分化点，</tspan><tspan x="2009" dy="14.8">有的内容还是高初中教材都不讲的脱节内容，</tspan><tspan x="2009" dy="14.8">如不采取补救措施，查缺补漏，分化是不可避</tspan><tspan x="2009" dy="14.8">免的。</tspan></text></g>
<g id="b4-s1-2"><text class="t" x="2009" y="2429.3">2、被动学习。许多同学进入高中后，还像初<tspan x="2009" dy="14.8">中那样，有很强的依赖心理，跟随老师惯性运</tspan><tspan x="2009" dy="14.8">转，没有掌握学习主动权.表现在不定计划，</tspan><tspan x="2009" dy="14.8">坐等上课，课前没有预习，对老师要上课的内</tspan><tspan x="2009" dy="14.8">容不了解，上课忙于记笔记，没听到"门道"，</tspan><tspan x="2009" dy="14.8">没有真正理解所学内容。不知道或不明确学习</tspan><tspan x="2009" dy="14.8">数学应具有哪些学习方法和学习策略；老师上</tspan><tspan x="2009" dy="14.8">课一般都要讲清知识的来龙去脉，剖析概念的</tspan><tspan x="2009" dy="14.8">内涵，分析重点难点，突出思想方法.而一部</tspan><tspan x="2009" dy="14.8">分同学上课没能专心听课，对要点没听到或听</tspan><tspan x="2009" dy="14.8">不全，笔记记了一大本，问题也有一大堆，课</tspan><tspan x="2009" dy="14.8">后又不能及时巩固、总结、寻找知识间的联系</tspan><tspan x="2009" dy="14.8">，只是赶做作业，乱套题型，对概念、法则、</tspan><tspan x="2009" dy="14.8">公式、定理一知半解，机械模仿，死记硬背.</tspan><tspan x="2009" dy="14.8">也有的晚上加班加点，白天无精打采，或是上</tspan><tspan x="2009" dy="14.8">课根本不听，自己另搞一套，结果是事倍功半</tspan><tspan x="2009" dy="14.8">，收效甚微。</tspan></text></g>
<g id="b4-s1-3"><text class="t" x="2009" y="2717.3">3、对自己学习数学的好差（或成败）不了解<tspan x="2009" dy="14.8">，更不会去进行反思总结，甚至根本不关心自</tspan><tspan x="2009" dy="14.8">己的成败。</tspan></text></g>
<g id="b4-s1-4"><text class="t" x="2009" y="2798.3">4、不能计划学习行动，不会安排学习生活，<tspan x="2009" dy="14.8">更不能调节控制学习行为，不能随时监控每一</tspan><tspan x="2009" dy="14.8">步骤，对学习结果不会正确地自我评价。</tspan></text></g>
<g id="b4-s1-5"><text class="t" x="2009" y="2879.3">5、不重视基础。一些"自我感觉良好"的同学<tspan x="2009" dy="14.8">，常轻视基本知识、基本技能和基本方法的学</tspan><tspan x="2009" dy="14.8">习与训练，经常是知道怎么做就算了，而不去</tspan><tspan x="2009" dy="14.8">认真演算书写，但对难题很感兴趣，以显示自</tspan><tspan x="2009" dy="14.8">己的"水平"，好高骛远，重"量"轻"质"，陷入</tspan><tspan x="2009" dy="14.8">题海.到正规作业或考试中不是演算出错就是</tspan><tspan x="2009" dy="14.8">中途"卡壳"。</tspan></text></g>
<g id="b4-s1-5a"><text class="t" x="2273" y="2879.3">此外，还有许多学生数学学习兴趣不浓厚，不<tspan x="2273" dy="14.8">具备应用数学的意识和能力，对数学思想方法</tspan><tspan x="2273" dy="14.8">重视不够或掌握情况不好，缺乏将实际问题转</tspan><tspan x="2273" dy="14.8">化为数学问题的能力，缺乏准确运用数学语言</tspan><tspan x="2273" dy="14.8">来分析问题和表达思想的能力，思维缺乏灵活</tspan><tspan x="2273" dy="14.8">性、批判性和发散性等。所有这些都严重制约</tspan><tspan x="2273" dy="14.8">着学生数学成绩的提高。</tspan></text></g>
<g id="b4-s2"><text class="t e" x="1643" y="3558.3">二、教学中的思考与实践</text></g>
<g id="b4-s2-a"><text class="t" x="1676" y="3019.9">针对我校高一学生的具体情况，我在高一数学<tspan x="1676" dy="14.8">新教材教学实践与探索中，贯彻"因人施教，</tspan><tspan x="1676" dy="14.8">因材施教"原则。以学法指导为突破口；着重</tspan><tspan x="1676" dy="14.8">在"读、讲、练、辅、作业"等方面下功夫，取</tspan><tspan x="1676" dy="14.8">得一定效果。</tspan></text></g>
<g id="b4-s2-b"><text class="t" x="1676" y="3130.3">加强学法指导，培养良好学习习惯。良好的学<tspan x="1676" dy="14.8">习习惯包括制定计划、课前自学、专心上课、</tspan><tspan x="1676" dy="14.8">及时复习、独立作业、解决疑难、系统小结和</tspan><tspan x="1676" dy="14.8">课外学习几个方面。</tspan></text></g>
<g id="b4-s2-c"><text class="t" x="1676" y="3225.3">制定计划使学习目的明确，时间安排合理，不<tspan x="1676" dy="14.8">慌不忙，稳扎稳打，它是推动学生主动学习和</tspan><tspan x="1676" dy="14.8">克服困难的内在动力。但计划一定要切实可行</tspan><tspan x="1676" dy="14.8">，既有长远打算，又有短期安排，执行过程中</tspan><tspan x="1676" dy="14.8">严格要求自己，磨炼学习意志。</tspan></text></g>
<g id="b4-s2-d"><text class="t" x="1676" y="3336.3">课前自学是学生上好新课，取得较好学习效果<tspan x="1676" dy="14.8">的基础.课前自学不仅能培养自学能力，而且</tspan><tspan x="1676" dy="14.8">能提高学习新课的兴趣，掌握学习主动权。自</tspan><tspan x="1676" dy="14.8">学不能搞走过场，要讲究质量，力争在课前把</tspan><tspan x="1676" dy="14.8">教材弄懂，上课着重听老师讲课的思路，把握</tspan><tspan x="1676" dy="14.8">重点，突破难点，尽可能把问题解决在课堂上</tspan><tspan x="1676" dy="14.8">。</tspan></text></g>
<g id="b4-s2-e"><text class="t" x="1676" y="3476.8">上课是理解和掌握基本知识、基本技能和基本<tspan x="1676" dy="14.8">方法的关键环节。"学然后知不足"，课前自学</tspan><tspan x="1676" dy="14.8">过的同学上课更能专心听课，他们知道什么地</tspan><tspan x="1676" dy="14.8">方该详，什么地方可略；什么地方该精雕细刻</tspan><tspan x="1676" dy="14.8">，什么地方可以一带而过，该记的地方才记下</tspan><tspan x="1676" dy="14.8">来，而不是全抄全录，顾此失彼。</tspan></text></g>
<g id="b4-s2-f"><text class="t" x="1676" y="3602.3">及时复习是高效率学习的重要一环，通过反复<tspan x="1676" dy="14.8">阅读教材，多方查阅有关资料，强化对基本概</tspan><tspan x="1676" dy="14.8">念知识体系的理解与记忆，将所学的新知识与</tspan><tspan x="1676" dy="14.8">有关旧知识联系起来，进行分析比较，一边复</tspan><tspan x="1676" dy="14.8">习一边将复习成果整理在笔记上，使对所学的</tspan><tspan x="1676" dy="14.8">新知识由"懂"到"会"。</tspan></text></g>
<g id="b4-s2-g"><text class="t" x="1676" y="3727.3">独立作业是学生通过自己的独立思考，灵活地<tspan x="1676" dy="14.8">分析问题、解决问题，进一步加深对所学新知</tspan><tspan x="1676" dy="14.8">识的理解和对新技能的掌握过程.这一过程是</tspan><tspan x="1676" dy="14.8">对学生意志毅力的考验，通过运用使学生对所</tspan><tspan x="1676" dy="14.8">学知识由"会"到"熟"。</tspan></text></g>
<g id="b4-s2-h"><text class="t" x="1676" y="3838.3">解决疑难是指对独立完成作业过程中暴露出来<tspan x="1676" dy="14.8">对知识理解的错误，或由于思维受阻遗漏解答</tspan><tspan x="1676" dy="14.8">，通过点拨使思路畅通，补遗解答的过程.解</tspan><tspan x="1676" dy="14.8">决疑难一定要有锲而不舍的精神，做错的作业</tspan><tspan x="1676" dy="14.8">再做一遍。对错误的地方没弄清楚要反复思考</tspan><tspan x="1676" dy="14.8">，实在解决不了的要请教老师和同学，并要经</tspan><tspan x="1676" dy="14.8">常把易错的地方拿出来复习强化，作适当的重</tspan><tspan x="1676" dy="14.8">复性练习，把求老师问同学获得的东西消化变</tspan><tspan x="1676" dy="14.8">成自己的知识，长期坚持使对所学知识由"熟"</tspan><tspan x="1676" dy="14.8">到"活"。</tspan></text></g>
<g id="b4-s2-i"><text class="t" x="1676" y="4023.3">课外学习包括阅读课外书籍与报刊，参加学科<tspan x="1676" dy="14.8">竞赛与讲座，走访高年级同学或老师交流学习</tspan><tspan x="1676" dy="14.8">心得等.课外学习是课内学习的补充和继续，</tspan><tspan x="1676" dy="14.8">它不仅能丰富学生的文化科学知识，加深和巩</tspan><tspan x="1676" dy="14.8">固课内所学的知识，而且能满足和发展他们的</tspan><tspan x="1676" dy="14.8">兴趣爱好，培养独立学习和工作能力，激发求</tspan><tspan x="1676" dy="14.8">知欲与学习热情。</tspan></text></g>

<!-- Branch 6 -->
<g id="b6">
<text class="t m" x="1230" y="5066.7">六、2022高一数学教师春季新学期<tspan x="1230" dy="19.5">教学计划</tspan></text>
</g>
<g id="b6-s1"><text class="t" x="1516" y="4200.3">一、指导思想</text></g>
<g id="b6-s1-a"><text class="t" x="1619" y="4163.6">为了更好地完成本学期教育教学工作，有计划<tspan x="1619" dy="14.8">地完成教学内容，根据学校的工作计划，立以</tspan><tspan x="1619" dy="14.8">足高考，保质保量地完成教育教学任务，在原</tspan><tspan x="1619" dy="14.8">来良好的基础上锦上添花，结合本学期本所教</tspan><tspan x="1619" dy="14.8">的班级实际，制定本学期教育教学工作计划如</tspan><tspan x="1619" dy="14.8">下。</tspan></text></g>
<g id="b6-s2"><text class="t" x="1516" y="4385.7">二、学情分析</text></g>
<g id="b6-s2-a"><text class="t" x="1619" y="4289.1">本学期担任高一（x）班班的数学教学工作，<tspan x="1619" dy="14.8">高一（x）班属本年级普通班，根据开学一周</tspan><tspan x="1619" dy="14.8">深入观察了解，学生学习情况一般，学习自觉</tspan><tspan x="1619" dy="14.8">性差，自我控制能力弱，因此在教学中需时时</tspan><tspan x="1619" dy="14.8">提醒学生，培养其自觉性。班级存在的最大问</tspan><tspan x="1619" dy="14.8">题是计算能力太差，学生不喜欢去算题，嫌麻</tspan><tspan x="1619" dy="14.8">烦，只注重思路，因此在以后的教学中，重点</tspan><tspan x="1619" dy="14.8">在于培养学生的计算能力，同时要进一步提高</tspan><tspan x="1619" dy="14.8">其思维能力。同时，由于初中课改的原因，高</tspan><tspan x="1619" dy="14.8">中教材与初中教材衔接力度不够，需在新授时</tspan><tspan x="1619" dy="14.8">适机补充一些内容。因此时间上可能仍然吃紧</tspan><tspan x="1619" dy="14.8">。同时，其底子薄弱，因此在教学时只能注重</tspan><tspan x="1619" dy="14.8">基础再基础，争取每一堂课落实一个知识点，</tspan><tspan x="1619" dy="14.8">掌握一个知识点。</tspan></text></g>
<g id="b6-s3"><text class="t" x="1516" y="4862.3">三、教材分析</text></g>
<g id="b6-s3-a"><text class="t" x="1619" y="4862.3">本教材有下列几个特点：</text></g>
<g id="b6-s3-1"><text class="t" x="1779" y="4533.3">1、更加注重强调数学知识的实际背景和应用<tspan x="1779" dy="14.8">，使教材具有很强的＂亲和力＂，即以生动活</tspan><tspan x="1779" dy="14.8">泼的呈现方式，激发学生的兴趣和美感，使学</tspan><tspan x="1779" dy="14.8">生产生对数学的亲切感，引发学生＂看个究竟</tspan><tspan x="1779" dy="14.8">＂的冲动，使学生兴趣盎然地投入学习。</tspan></text></g>
<g id="b6-s3-2"><text class="t" x="1779" y="4643.3">2、以恰时恰点的问题引导数学活动，培养问<tspan x="1779" dy="14.8">题意识，孕育创新精神，体现了问题性，本套</tspan><tspan x="1779" dy="14.8">教材的一个很大特点是每一章都可以看到＂观</tspan><tspan x="1779" dy="14.8">察＂＂思考＂＂探索＂以及用＂问号性＂图标</tspan><tspan x="1779" dy="14.8">呈现的＂边空＂等栏目，利用这些栏目，在知</tspan><tspan x="1779" dy="14.8">识形过过程的＂关键点＂上，在运用数学思想</tspan><tspan x="1779" dy="14.8">方法产生解决问题策略的＂关节点＂上，在数</tspan><tspan x="1779" dy="14.8">学知识之间联系的＂联结点＂上，在数学问题</tspan><tspan x="1779" dy="14.8">变式的＂发散点＂上，在学生思维的＂最近发</tspan><tspan x="1779" dy="14.8">展区＂内，提出恰当的、对学生数学思维有适</tspan><tspan x="1779" dy="14.8">度启发的问题，以引导学生的数学探究活动，</tspan><tspan x="1779" dy="14.8">切实转变学生的学习方式。</tspan></text></g>
<g id="b6-s3-3"><text class="t" x="1779" y="4858.1">3、信息技术是一种强有力的认识工具，在教<tspan x="1779" dy="14.8">材的编写过程体现了积极探索数学课程与信息</tspan><tspan x="1779" dy="14.8">技术的整合，帮助学生利用信息技术的力量，</tspan><tspan x="1779" dy="14.8">对数学的本质作进一步的理解。</tspan></text></g>
<g id="b6-s3-4"><text class="t" x="1779" y="4954.3">4、关注学生数学发展的不同需求，为不同学<tspan x="1779" dy="14.8">生提供不同的发展空间，促进学生个性和潜能</tspan><tspan x="1779" dy="14.8">的发展提供了很好的平台。例如教材通过设置</tspan><tspan x="1779" dy="14.8">＂观察与猜想＂、＂阅读与思考＂、＂探究与</tspan><tspan x="1779" dy="14.8">发现＂等栏目，一方面为学生提供了一些关于</tspan><tspan x="1779" dy="14.8">探究性、拓展性、思想性、时代性和应用性的</tspan><tspan x="1779" dy="14.8">选学材料，拓展学生的数学活动空间和扩大学</tspan><tspan x="1779" dy="14.8">生的数学知识面，另一方面也体现了数学的科</tspan><tspan x="1779" dy="14.8">学价值，反映了数学在推动其他科学和整个文</tspan><tspan x="1779" dy="14.8">化进步中的作用。</tspan></text></g>
<g id="b6-s3-5"><text class="t" x="1779" y="5138">5、新教材注重数学史渗透，特别是注重介绍<tspan x="1779" dy="14.8">我国对数学的贡献，充分体现数学的人文价值</tspan><tspan x="1779" dy="14.8">，科学价值和文化价值，激发了学生的爱国主</tspan><tspan x="1779" dy="14.8">义情感和民族自豪感。</tspan></text></g>
<g id="b6-s4"><text class="t e" x="1619" y="5405">四、本学期教学目的</text></g>
<g id="b6-s4-1"><text class="t" x="1653" y="5234.8">1、了解集合的含义与表示，理解集合间的关<tspan x="1653" dy="14.8">系和运算，感受集合语言的意义和作用。进一</tspan><tspan x="1653" dy="14.8">步体会函数是描述变量之间的依赖关系的重要</tspan><tspan x="1653" dy="14.8">数学模型，会用集合与对应的语言描述函数，</tspan><tspan x="1653" dy="14.8">体会对应关系在刻画函数概念中的作用。了解</tspan><tspan x="1653" dy="14.8">函数的构成要素，会求简单函数定义域和值域</tspan><tspan x="1653" dy="14.8">，会根据实际情境的不同需要选择恰当的方法</tspan><tspan x="1653" dy="14.8">表示函数。通过已学过的具体函数，理解函数</tspan><tspan x="1653" dy="14.8">的单调性、最大（小）值及其几何意义，了解</tspan><tspan x="1653" dy="14.8">奇偶性的含义，会用函数图象理解和研究函数</tspan><tspan x="1653" dy="14.8">的性质。</tspan></text></g>
<g id="b6-s4-2"><text class="t" x="1653" y="5433.6">2、结合二次函数的图象，判断一元二次方程<tspan x="1653" dy="14.8">根的存在性及根的个数，从而了解函数的零点</tspan><tspan x="1653" dy="14.8">与方程根的联系.根据具体函数的图象，能够</tspan><tspan x="1653" dy="14.8">借助计算器用二分法求相应方程的近似解，了</tspan><tspan x="1653" dy="14.8">解这种方法是求方程近似解的常用方法.利用</tspan><tspan x="1653" dy="14.8">计算工具，比较指数函数、对数函数以及幂函</tspan><tspan x="1653" dy="14.8">数间的增长差异；结合实例体会直线上升、指</tspan><tspan x="1653" dy="14.8">数爆炸、对数增长等不同函数类型增长的含义</tspan><tspan x="1653" dy="14.8">.收集一些社会生活中普遍使用的函数模型，</tspan><tspan x="1653" dy="14.8">了解函数模型的广泛应用。</tspan></text></g>
<g id="b6-s5"><text class="t" x="1516" y="5950.3">五、工作措施</text></g>
<g id="b6-s5-1"><text class="t" x="1619" y="5618.9">1、认真学习教学大纲和钻研教材教法，把握<tspan x="1619" dy="14.8">好教材的广度、深度和难度。</tspan></text></g>
<g id="b6-s5-2"><text class="t" x="1619" y="5685.2">2、抓好课堂教学，提高教学效益。</text></g>
<g id="b6-s5-3"><text class="t" x="1619" y="5736.3">3、积极开展主动–有效课堂教学。</text></g>
<g id="b6-s5-4"><text class="t" x="1619" y="5787.6">4、教学中要注重强化思维过程，努力提高学<tspan x="1619" dy="14.8">生的理性思维能力。</tspan></text></g>
<g id="b6-s5-5"><text class="t" x="1619" y="5853.1">5、贯彻落实教学常规，作业全批全改，在作<tspan x="1619" dy="14.8">业上写好激励性的评语。</tspan></text></g>
<g id="b6-s5-6"><text class="t" x="1619" y="5918.7">6、精讲精练，落实每周一练制度及单元过关<tspan x="1619" dy="14.8">测试，教师要全批全改，及时认真讲评。并做</tspan><tspan x="1619" dy="14.8">好试卷补偿练习。</tspan></text></g>
<g id="b6-s5-7"><text class="t" x="1619" y="6000">7、加强尖子生的培养和后进生的转化工作。<tspan x="1619" dy="14.8">做好尖子生的培养工作及所有学生的学习情况</tspan><tspan x="1619" dy="14.8">跟踪工作，争取不让学生掉队，认真做好因材</tspan><tspan x="1619" dy="14.8">施教，积极探讨"分层教学"的教学方法。</tspan></text></g>
<g id="b6-s5-8"><text class="t" x="1619" y="6095.6">8、指导学生尽快适应高、初中过渡阶段的学<tspan x="1619" dy="14.8">习，教学时应注意高、初中知识的衔接，并对</tspan><tspan x="1619" dy="14.8">学生进行学法指导。</tspan></text></g>
<g id="b6-s5-9"><text class="t" x="1619" y="6177">9、尽快了解学生的数学的基本情况，进一步<tspan x="1619" dy="14.8">培养好学生学习数学的兴趣。</tspan></text></g>
<g id="b6-s5-10"><text class="t" x="1619" y="6265.1">10、做好教情学情的调查，及时调整教与学<tspan x="1619" dy="14.8">。</tspan></text></g>
<g id="b6-s5-10a"><text class="t" x="1883" y="6242.5">以上几点就是我在本学期的工作计划，我将会<tspan x="1883" dy="14.8">与全组老师团结合作，共同努力，落实好学校</tspan><tspan x="1883" dy="14.8">和各部门的任务，并能够按照自身特点和所教</tspan><tspan x="1883" dy="14.8">班级的具体情况认真做好自己的教育教学工作</tspan><tspan x="1883" dy="14.8">。</tspan></text></g>
</g>
</svg>
